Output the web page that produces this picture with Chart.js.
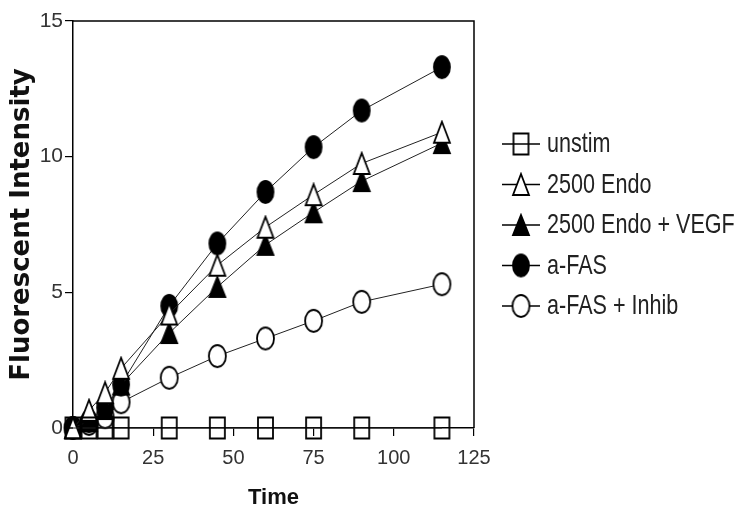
<!DOCTYPE html>
<html>
<head>
<meta charset="utf-8">
<script src="https://cdn.jsdelivr.net/npm/chart.js@4.4.1/dist/chart.umd.min.js"></script>
<style>
  html, body { margin: 0; padding: 0; background: #fff; }
  #wrap { width: 739px; height: 512px; }
</style>
</head>
<body>
<div id="wrap"><canvas id="fluorChart" width="739" height="512"></canvas></div>
<script>
const times = [0, 5, 10, 15, 30, 45, 60, 75, 90, 115];
const unstim = [0, 0, 0, 0, 0, 0, 0, 0, 0, 0];
const endo = [0, 0.65, 1.3, 2.2, 4.2, 6.0, 7.4, 8.6, 9.75, 10.9];
const endoVegf = [0, 0.25, 0.7, 1.6, 3.5, 5.2, 6.75, 7.95, 9.1, 10.5];
const aFas = [0, 0.25, 0.75, 1.6, 4.5, 6.8, 8.7, 10.35, 11.7, 13.3];
const aFasInhib = [0, 0.15, 0.4, 0.95, 1.85, 2.65, 3.3, 3.95, 4.65, 5.3];
const seriesNames = ['unstim', '2500 Endo', '2500 Endo + VEGF', 'a-FAS', 'a-FAS + Inhib'];
const xTicks = [0, 25, 50, 75, 100, 125];
const yTicks = [0, 5, 10, 15];

const sans = '"Liberation Sans", Arial, sans-serif';

// marker images (the source figure is stretched vertically, so marks are taller than wide)
function makeMarker(shape, fill, w, h) {
    const c = document.createElement('canvas');
    c.width = w + 4;
    c.height = h + 4;
    const g = c.getContext('2d');
    g.lineWidth = 1.8;
    g.strokeStyle = '#000';
    g.beginPath();
    if (shape === 'rect') {
        g.rect(2, 2, w, h);
    } else if (shape === 'ellipse') {
        g.ellipse(c.width / 2, c.height / 2, w / 2, h / 2, 0, 0, Math.PI * 2);
    } else {
        g.moveTo(c.width / 2, 2);
        g.lineTo(w + 2, h + 2);
        g.lineTo(2, h + 2);
        g.closePath();
    }
    if (fill) {
        g.fillStyle = fill;
        g.fill();
    }
    g.stroke();
    return c;
}

const markers = [
    makeMarker('rect', null, 15, 21),
    makeMarker('triangle', '#fff', 16, 21),
    makeMarker('triangle', '#000', 16, 20),
    makeMarker('ellipse', '#000', 16, 22),
    makeMarker('ellipse', '#fff', 17, 22)
];

const values = [unstim, endo, endoVegf, aFas, aFasInhib];

const datasets = values.map((vals, i) => ({
    label: seriesNames[i],
    data: vals.map((v, j) => ({ x: times[j], y: v })),
    borderColor: '#222',
    borderWidth: 1,
    pointStyle: markers[i],
    pointRadius: 10,
    clip: false,
    tension: 0
}));

const frameAndLegend = {
    id: 'frameAndLegend',
    afterDraw(chart) {
        const { ctx, chartArea } = chart;
        ctx.save();
        ctx.strokeStyle = '#000';
        ctx.lineWidth = 1.5;
        ctx.beginPath();
        ctx.moveTo(chartArea.left, chartArea.top);
        ctx.lineTo(chartArea.right, chartArea.top);
        ctx.lineTo(chartArea.right, chartArea.bottom);
        ctx.moveTo(chartArea.left - 8, chartArea.bottom);
        ctx.lineTo(chartArea.left, chartArea.bottom);
        ctx.stroke();

        // legend: line through marker, then a condensed label
        ctx.font = '26px ' + sans;
        ctx.fillStyle = '#222';
        ctx.textBaseline = 'middle';
        chart.data.datasets.forEach((ds, i) => {
            const y = 144 + i * 40.5;
            ctx.lineWidth = 1.3;
            ctx.beginPath();
            ctx.moveTo(502, y);
            ctx.lineTo(540, y);
            ctx.stroke();
            const m = ds.pointStyle;
            ctx.drawImage(m, 521 - m.width / 2, y - m.height / 2);
            ctx.save();
            ctx.translate(547, y + 1);
            ctx.scale(0.83, 1.03);
            ctx.fillText(ds.label, 0, 0);
            ctx.restore();
        });
        ctx.restore();
    }
};

new Chart(document.getElementById('fluorChart').getContext('2d'), {
    type: 'line',
    data: { datasets },
    plugins: [frameAndLegend],
    options: {
        responsive: false,
        animation: false,
        layout: { padding: { top: 21, right: 265, left: 0, bottom: 0 } },
        plugins: {
            legend: { display: false },
            tooltip: { enabled: false }
        },
        scales: {
            x: {
                type: 'linear',
                min: 0,
                max: 125,
                afterFit: scale => { scale.height = 84; },
                afterBuildTicks: scale => { scale.ticks = xTicks.map(v => ({ value: v })); },
                border: { color: '#000', width: 1.5 },
                grid: { drawOnChartArea: false, tickLength: 8, color: '#000', lineWidth: 1.2 },
                ticks: {
                    color: '#333',
                    padding: 10,
                    maxRotation: 0,
                    font: { family: sans, size: 20 }
                },
                title: {
                    display: true,
                    text: 'Time',
                    color: '#111',
                    padding: { top: 0, bottom: 1 },
                    font: { family: sans, size: 22, weight: 'bold' }
                }
            },
            y: {
                min: 0,
                max: 15,
                afterFit: scale => { scale.width = 73; },
                afterBuildTicks: scale => { scale.ticks = yTicks.map(v => ({ value: v })); },
                border: { color: '#000', width: 1.5 },
                grid: { drawOnChartArea: false, tickLength: 8, color: '#000', lineWidth: 1.2 },
                ticks: {
                    color: '#333',
                    padding: 2,
                    font: { family: sans, size: 21 }
                },
                title: {
                    display: true,
                    text: 'Fluorescent Intensity',
                    color: '#111',
                    padding: { top: 7, bottom: 0 },
                    font: { family: '"DejaVu Sans", sans-serif', size: 26, weight: 'bold' }
                }
            }
        }
    }
});
</script>
</body>
</html>
